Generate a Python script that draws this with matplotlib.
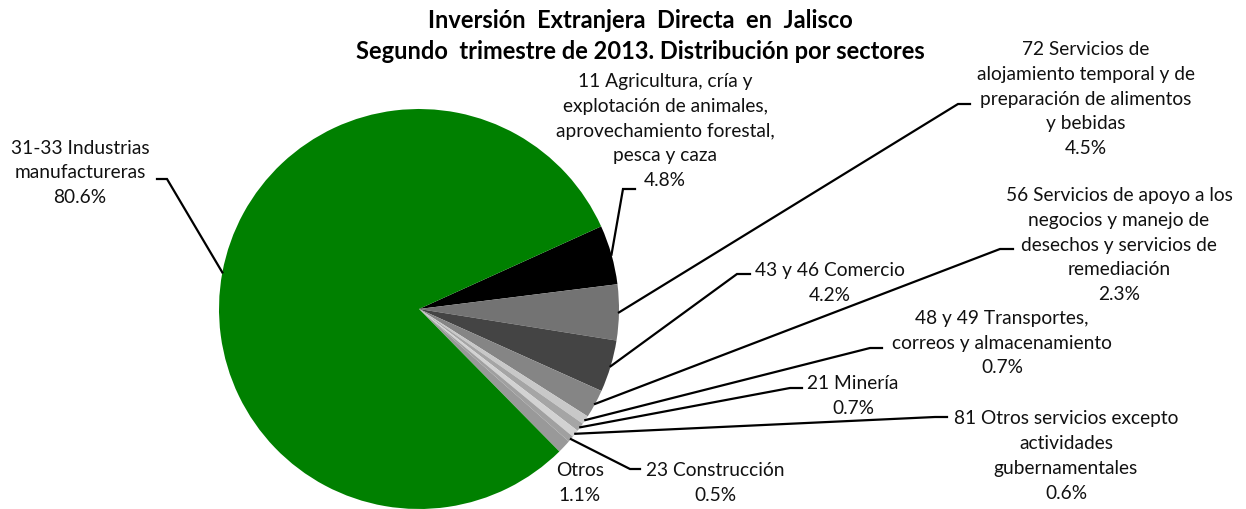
import numpy as np
import matplotlib
matplotlib.use("Agg")
import matplotlib.pyplot as plt

plt.rcParams['font.family'] = ['Lato', 'DejaVu Sans']

# data (clockwise from the black wedge)
sectores = [
    "11 Agricultura, cría y\nexplotación de animales,\naprovechamiento forestal,\npesca y caza",
    "72 Servicios de\nalojamiento temporal y de\npreparación de alimentos\ny bebidas",
    "43 y 46 Comercio",
    "56 Servicios de apoyo a los\nnegocios y manejo de\ndesechos y servicios de\nremediación",
    "48 y 49 Transportes,\ncorreos y almacenamiento",
    "21 Minería",
    "81 Otros servicios excepto\nactividades\ngubernamentales",
    "23 Construcción",
    "Otros",
    "31-33 Industrias\nmanufactureras",
]
porcentajes = [4.8, 4.5, 4.2, 2.3, 0.7, 0.7, 0.6, 0.5, 1.1, 80.6]
colores = ['#000000', '#737373', '#444444', '#858585', '#c8c8c8',
           '#a5a5a5', '#d2d2d2', '#a0a0a0', '#999999', '#008000']

W, H = 1246, 510
def py(y):
    # pixel row (top-down) -> data y
    return H - y

# label layout: text centre, leader elbow (x, y) and horizontal end x
text_pos = [(665, 131), (1086, 99), (830, 283), (1119, 245), (1002, 343),
            (853, 396), (1066, 456), (715, 483), (580, 483), (80, 173)]
elbows = [(623, 190, 635), (958, 105, 970), (737, 275, 750), (1000, 250, 1013),
          (870, 349, 882), (790, 389, 802), (935, 418, 947), (630, 470, 640),
          None, (167, 180, 157)]

cx, cy, r = 419, py(310), 200
start = 24.4

fig = plt.figure(figsize=(W / 100, H / 100), dpi=100)
ax = fig.add_axes([0, 0, 1, 1])
wedges, _ = ax.pie(porcentajes, colors=colores, startangle=start, counterclock=False,
                   center=(cx, cy), radius=r, wedgeprops=dict(linewidth=0))

for i, w in enumerate(wedges):
    mid = np.deg2rad((w.theta1 + w.theta2) / 2)
    ex = cx + r * np.cos(mid)
    ey = cy + r * np.sin(mid)
    tx, ty = text_pos[i]
    ax.text(tx, py(ty), f"{sectores[i]}\n{porcentajes[i]:.1f}%", ha='center', va='center',
            fontsize=13.8, linespacing=1.55, color='#111111')
    if elbows[i] is not None:
        bx, by, hx = elbows[i]
        ax.plot([ex, bx, hx], [ey, py(by), py(by)], color='black', lw=1.6,
                solid_joinstyle='miter')

fig.text(640 / W, 1 - 36 / H,
         "Inversión  Extranjera  Directa  en  Jalisco\nSegundo  trimestre de 2013. Distribución por sectores",
         ha='center', va='center', fontsize=17, fontweight='bold', linespacing=1.45)

ax.set_xlim(0, W)
ax.set_ylim(0, H)
ax.set_aspect('equal')
ax.axis('off')

plt.savefig("out.png", dpi=100)
